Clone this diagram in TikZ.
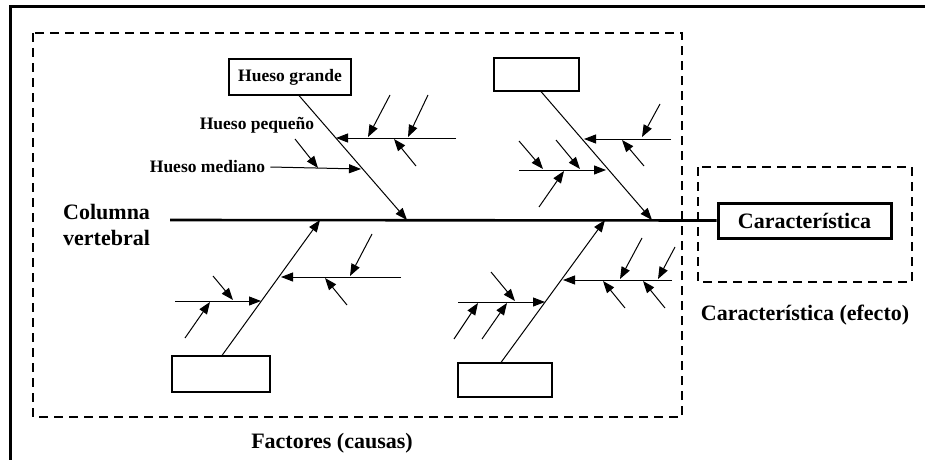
\documentclass[tikz,border=0pt]{standalone}
\usepackage{fontspec}
\setmainfont{Liberation Serif}
\usetikzlibrary{positioning,arrows.meta}

\begin{document}
\begin{tikzpicture}[x=1pt,y=-1pt]%1 unit = 1 px of the reference
    \tikzstyle{hueso} = [line width=1pt] \tikzstyle{flecha} =
    [line width=1pt,-{Triangle[length=12pt,width=9pt]}]
    \tikzstyle{caja} = [draw, line width=1.1pt, inner sep=0pt]
    \tikzstyle{etiq} = [font=\fontsize{17.5}{20}\selectfont\bfseries,
    inner sep=1pt] \tikzstyle{grande} =
    [font=\fontsize{22}{26}\selectfont\bfseries, inner sep=0pt]
    \tikzstyle{marco} = [line width=1.4pt, dash pattern=on 9pt off 6pt]
    \useasboundingbox (0,0) rectangle (925,460);
    % marco exterior y zonas
    \draw[line width=3pt] (925,7) -- (10,7) -- (10,460);
    \draw[marco] (33,33) rectangle (682,417);
    \draw[marco] (698,167) rectangle (912,282);
    % cajas
    \node[caja,minimum width=122pt,minimum height=36pt,etiq] (hg) at
    (290,77) {Hueso grande}; \node[caja,minimum width=85pt,minimum
    height=33pt] (c2) at (536.5,74.5) {}; \node[caja,minimum
    width=98pt,minimum height=36pt] (c3) at (221,374) {};
    \node[caja,minimum width=94pt,minimum height=34pt] (c4) at
    (505,380) {}; \node[caja,line width=3pt,minimum
    width=173pt,minimum height=35pt,grande] (car) at (804.5,220.5)
    {Caracter\'istica};
    % textos
    \node[grande,align=left,anchor=west] (col) at (63,225)
    {Columna\\vertebral}; \node[etiq] (hp) at (257,125) {Hueso
    peque\~no}; \node[etiq] (hm) at (207.5,167) {Hueso mediano};
    \node[grande] (efe) at (805,315) {Caracter\'istica (efecto)};
    \node[grande] (fac) at (332,443) {Factores (causas)};
    % columna vertebral
    \coordinate (sp) at (170,220); \coordinate (j1) at (407,220);
    \coordinate (j2) at (652,220); \coordinate (j3) at (320,220);
    \coordinate (j4) at (605,220);
    \draw[line width=2.6pt] (sp) -- (car.west);
    % huesos grandes
    \draw[flecha] ([xshift=9]hg.south) -- (j1); \draw[flecha]
    ([xshift=4.5]c2.south) -- (j2); \draw[flecha] ([xshift=1]c3.north)
    -- (j3); \draw[flecha] ([xshift=-4]c4.north) -- (j4);
    % huesos medianos
    \draw[flecha] (456,138) -- (336,138); \draw[flecha]
    ([xshift=4]hm.east) -- (361,169); \draw[flecha] (671,139) --
    (584,139); \draw[flecha] (519,170) -- (606,170); \draw[flecha]
    (401,277) -- (281,277); \draw[flecha] (175,301) -- (261,301);
    \draw[flecha] (672,280) -- (563,280); \draw[flecha] (458,302) --
    (545,302);
    % huesos pequenos
    \draw[flecha] (390,95) -- (368,137); \draw[flecha] (428,95) --
    (408,137); \draw[flecha] (416,166) -- (394,139); \draw[flecha]
    (295,139) -- (318,168); \draw[flecha] (660,104) -- (642,137);
    \draw[flecha] (644,166) -- (622,140); \draw[flecha] (519,141) --
    (543,169); \draw[flecha] (556,140) -- (580,169); \draw[flecha]
    (539,207) -- (564,171); \draw[flecha] (372,234) -- (350,276);
    \draw[flecha] (347,305) -- (325,278); \draw[flecha] (213,276) --
    (233,300); \draw[flecha] (185,338) -- (210,302); \draw[flecha]
    (642,238) -- (620,279); \draw[flecha] (675,247) -- (658,279);
    \draw[flecha] (625,308) -- (603,281); \draw[flecha] (665,308) --
    (643,281); \draw[flecha] (491,272) -- (515,301); \draw[flecha]
    (454,339) -- (478,303); \draw[flecha] (482,339) -- (507,303);
  \end{tikzpicture}
\end{document}
